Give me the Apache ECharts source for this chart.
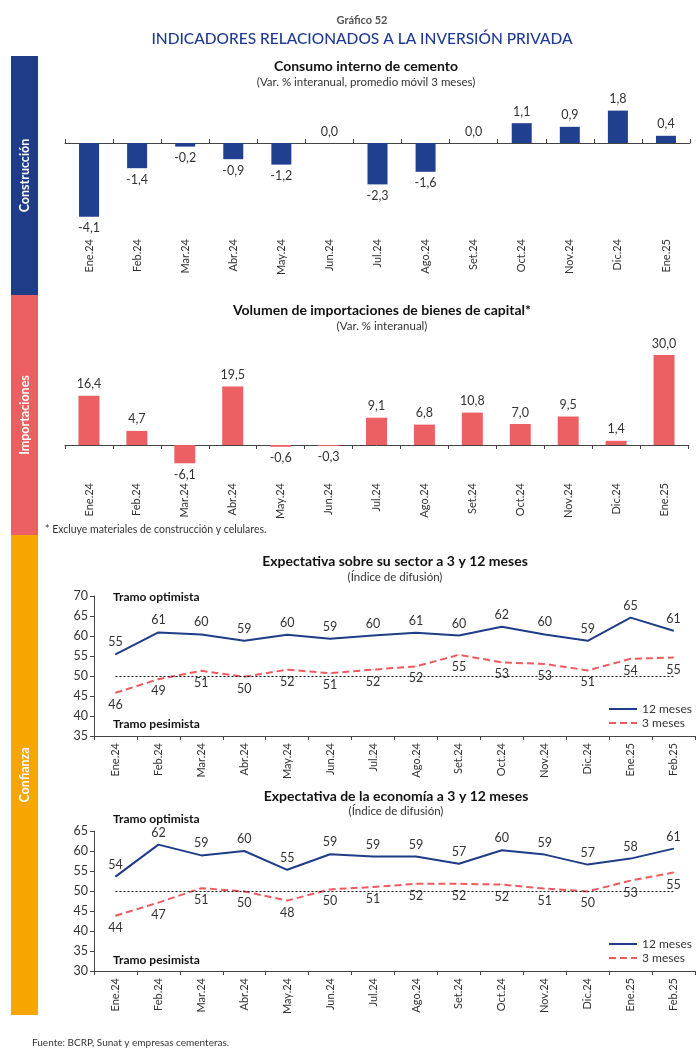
<!DOCTYPE html>
<html><head><meta charset="utf-8">
<script src="https://cdn.jsdelivr.net/npm/echarts@6/dist/echarts.min.js"></script>
<style>html,body{margin:0;padding:0;background:#fff}#c{width:700px;height:1060px}</style>
</head><body><div id="c"></div>
<script>
const catsA = ['Ene.24','Feb.24','Mar.24','Abr.24','May.24','Jun.24','Jul.24','Ago.24','Set.24','Oct.24','Nov.24','Dic.24','Ene.25'];
const catsB = ['Ene.24','Feb.24','Mar.24','Abr.24','May.24','Jun.24','Jul.24','Ago.24','Set.24','Oct.24','Nov.24','Dic.24','Ene.25','Feb.25'];
const cemento = [-4.1,-1.4,-0.2,-0.9,-1.2,0.0,-2.3,-1.6,0.0,1.1,0.9,1.8,0.4];
const importaciones = [16.4,4.7,-6.1,19.5,-0.6,-0.3,9.1,6.8,10.8,7.0,9.5,1.4,30.0];
const sector12 = [55.4,60.9,60.4,58.8,60.3,59.3,60.1,60.8,60.1,62.3,60.4,58.8,64.6,61.3];
const sector3 = [45.8,49.2,51.3,49.8,51.6,50.7,51.6,52.4,55.3,53.4,53.0,51.4,54.3,54.6];
const econ12 = [53.6,61.6,58.9,60.0,55.3,59.2,58.6,58.6,56.8,60.2,59.1,56.6,58.1,60.6];
const econ3 = [43.8,47.1,50.7,49.9,47.6,50.4,51.0,51.8,51.8,51.6,50.6,49.9,52.6,54.6];
const ticksB1 = {min:35, max:70, interval:5};
const ticksB2 = {min:30, max:65, interval:5};
const NEUTRAL = 50;

const FONT = 'Lato, "Open Sans", sans-serif';
const NAVY = '#1f3c88', RED = '#ec6064', ORANGE = '#f7a600', TXT = '#333';
const fmt1 = v => v.toFixed(1).replace('.', ',');
const chart = echarts.init(document.getElementById('c'), null, {renderer:'canvas'});

function barData(arr){
  return arr.map(v => ({value:v, label:{position: v < 0 ? 'bottom' : 'top'}}));
}
function txt(x,y,text,size,opts){
  return Object.assign({type:'text', x:x, y:y, style:Object.assign({text:text, fontSize:size, fontFamily:FONT, fill:TXT, align:'center', verticalAlign:'middle'}, opts||{})});
}
function sideBar(y0,y1,color,label){
  return [
    {type:'rect', shape:{x:11,y:y0,width:27,height:y1-y0}, style:{fill:color}},
    {type:'text', x:25, y:(y0+y1)/2, rotation:Math.PI/2, style:{text:label, fill:'#fff', fontSize:12.5, fontWeight:'bold', fontFamily:FONT, align:'center', verticalAlign:'middle'}}
  ];
}
const catAxisBottom = (gi, data, margin, inside, extra) => Object.assign({
  type:'category', gridIndex:gi, data:data,
  axisLine:{onZero:true, lineStyle:{color:'#444', width:1}},
  axisTick:{show:true, inside:inside, length:4, lineStyle:{color:'#444'}},
  axisLabel:{rotate:90, margin:margin, fontSize:11, color:TXT, fontFamily:FONT, interval:0},
  splitLine:{show:false}
}, extra||{});

const lineLabel = (pos) => ({show:true, position:pos, distance:5, fontSize:12.5, color:TXT, fontFamily:FONT, formatter:p => Math.round(p.value)});
const neutralLine = {silent:true, symbol:'none', label:{show:false}, lineStyle:{color:'#111', type:[2,2], width:1},
  data:[[{coord:[catsB[0], NEUTRAL]},{coord:[catsB[catsB.length-1], NEUTRAL]}]]};

const option = {
  animation:false,
  textStyle:{fontFamily:FONT},
  graphic:[
    txt(362,20,'Gráfico 52',11,{fontWeight:'bold', fill:'#555'}),
    txt(362,39,'INDICADORES RELACIONADOS A LA INVERSIÓN PRIVADA',15.5,{fill:'#1f3a93', fontWeight:500}),
    ...sideBar(56,295,NAVY,'Construcción'),
    ...sideBar(295,535,RED,'Importaciones'),
    ...sideBar(535,1015,ORANGE,'Confianza'),
    txt(366,66,'Consumo interno de cemento',14,{fontWeight:'bold', fill:'#111'}),
    txt(366,82,'(Var. % interanual, promedio móvil 3 meses)',11.5),
    txt(382,310,'Volumen de importaciones de bienes de capital*',14,{fontWeight:'bold', fill:'#111'}),
    txt(382,326,'(Var. % interanual)',11.5),
    txt(45,530,'* Excluye materiales de construcción y celulares.',10.5,{align:'left'}),
    txt(395,561,'Expectativa sobre su sector a 3 y 12 meses',14,{fontWeight:'bold', fill:'#111'}),
    txt(395,577,'(Índice de difusión)',11.5),
    txt(113,597,'Tramo optimista',12,{fontWeight:'bold', align:'left', fill:'#111'}),
    txt(113,724,'Tramo pesimista',12,{fontWeight:'bold', align:'left', fill:'#111'}),
    txt(396,796,'Expectativa de la economía a 3 y 12 meses',14,{fontWeight:'bold', fill:'#111'}),
    txt(396,811,'(Índice de difusión)',11.5),
    txt(113,819,'Tramo optimista',12,{fontWeight:'bold', align:'left', fill:'#111'}),
    txt(113,960,'Tramo pesimista',12,{fontWeight:'bold', align:'left', fill:'#111'}),
    txt(32,1043,'Fuente: BCRP, Sunat y empresas cementeras.',10,{align:'left'})
  ],
  grid:[
    {left:65, right:10, top:107, height:117},
    {left:65, right:12, top:349, height:120},
    {left:94, right:5, top:596, height:140},
    {left:94, right:5, top:831, height:140}
  ],
  xAxis:[
    catAxisBottom(0, catsA, 15, true),
    catAxisBottom(1, catsA, 14, false),
    catAxisBottom(2, catsB, 7, false, {axisLine:{onZero:false, lineStyle:{color:'#444'}}}),
    catAxisBottom(3, catsB, 7, false, {axisLine:{onZero:false, lineStyle:{color:'#444'}}})
  ],
  yAxis:[
    {type:'value', gridIndex:0, min:-4.5, max:2, show:false, splitLine:{show:false}},
    {type:'value', gridIndex:1, min:-8, max:32, show:false, splitLine:{show:false}},
    {type:'value', gridIndex:2, min:ticksB1.min, max:ticksB1.max, interval:ticksB1.interval,
      axisLine:{show:true, lineStyle:{color:'#444'}}, axisTick:{show:true, length:4, lineStyle:{color:'#444'}},
      axisLabel:{fontSize:12.5, color:TXT, fontFamily:FONT, margin:6}, splitLine:{show:false}},
    {type:'value', gridIndex:3, min:ticksB2.min, max:ticksB2.max, interval:ticksB2.interval,
      axisLine:{show:true, lineStyle:{color:'#444'}}, axisTick:{show:true, length:4, lineStyle:{color:'#444'}},
      axisLabel:{fontSize:12.5, color:TXT, fontFamily:FONT, margin:6}, splitLine:{show:false}}
  ],
  legend:[
    {data:['12 meses','3 meses'], orient:'vertical', left:603, top:698, itemWidth:28, itemHeight:10, itemGap:2,
      itemStyle:{opacity:0}, textStyle:{fontSize:12, color:TXT, fontFamily:FONT}},
    {data:['12 meses','3 meses'], orient:'vertical', left:603, top:933, itemWidth:28, itemHeight:10, itemGap:2,
      itemStyle:{opacity:0}, textStyle:{fontSize:12, color:TXT, fontFamily:FONT}}
  ],
  series:[
    {type:'bar', xAxisIndex:0, yAxisIndex:0, data:barData(cemento), barWidth:20, itemStyle:{color:'#203f8f'},
      label:{show:true, distance:5, fontSize:12.5, color:TXT, fontFamily:FONT, formatter:p => fmt1(p.value)}},
    {type:'bar', xAxisIndex:1, yAxisIndex:1, data:barData(importaciones), barWidth:21, itemStyle:{color:RED},
      label:{show:true, distance:5, fontSize:12.5, color:TXT, fontFamily:FONT, formatter:p => fmt1(p.value)}},
    {type:'line', name:'12 meses', xAxisIndex:2, yAxisIndex:2, data:sector12, symbol:'circle', symbolSize:1,
      lineStyle:{color:NAVY, width:2}, itemStyle:{color:NAVY}, label:lineLabel('top'), z:3, markLine:neutralLine},
    {type:'line', name:'3 meses', xAxisIndex:2, yAxisIndex:2, data:sector3, symbol:'circle', symbolSize:1,
      lineStyle:{color:'#f0595e', width:2, type:[7,4]}, itemStyle:{color:'#f0595e'}, label:lineLabel('bottom'), z:2},
    {type:'line', name:'12 meses', xAxisIndex:3, yAxisIndex:3, data:econ12, symbol:'circle', symbolSize:1,
      lineStyle:{color:NAVY, width:2}, itemStyle:{color:NAVY}, label:lineLabel('top'), z:3, markLine:neutralLine},
    {type:'line', name:'3 meses', xAxisIndex:3, yAxisIndex:3, data:econ3, symbol:'circle', symbolSize:1,
      lineStyle:{color:'#f0595e', width:2, type:[7,4]}, itemStyle:{color:'#f0595e'}, label:lineLabel('bottom'), z:2}
  ]
};
chart.setOption(option);
</script>
</body></html>
